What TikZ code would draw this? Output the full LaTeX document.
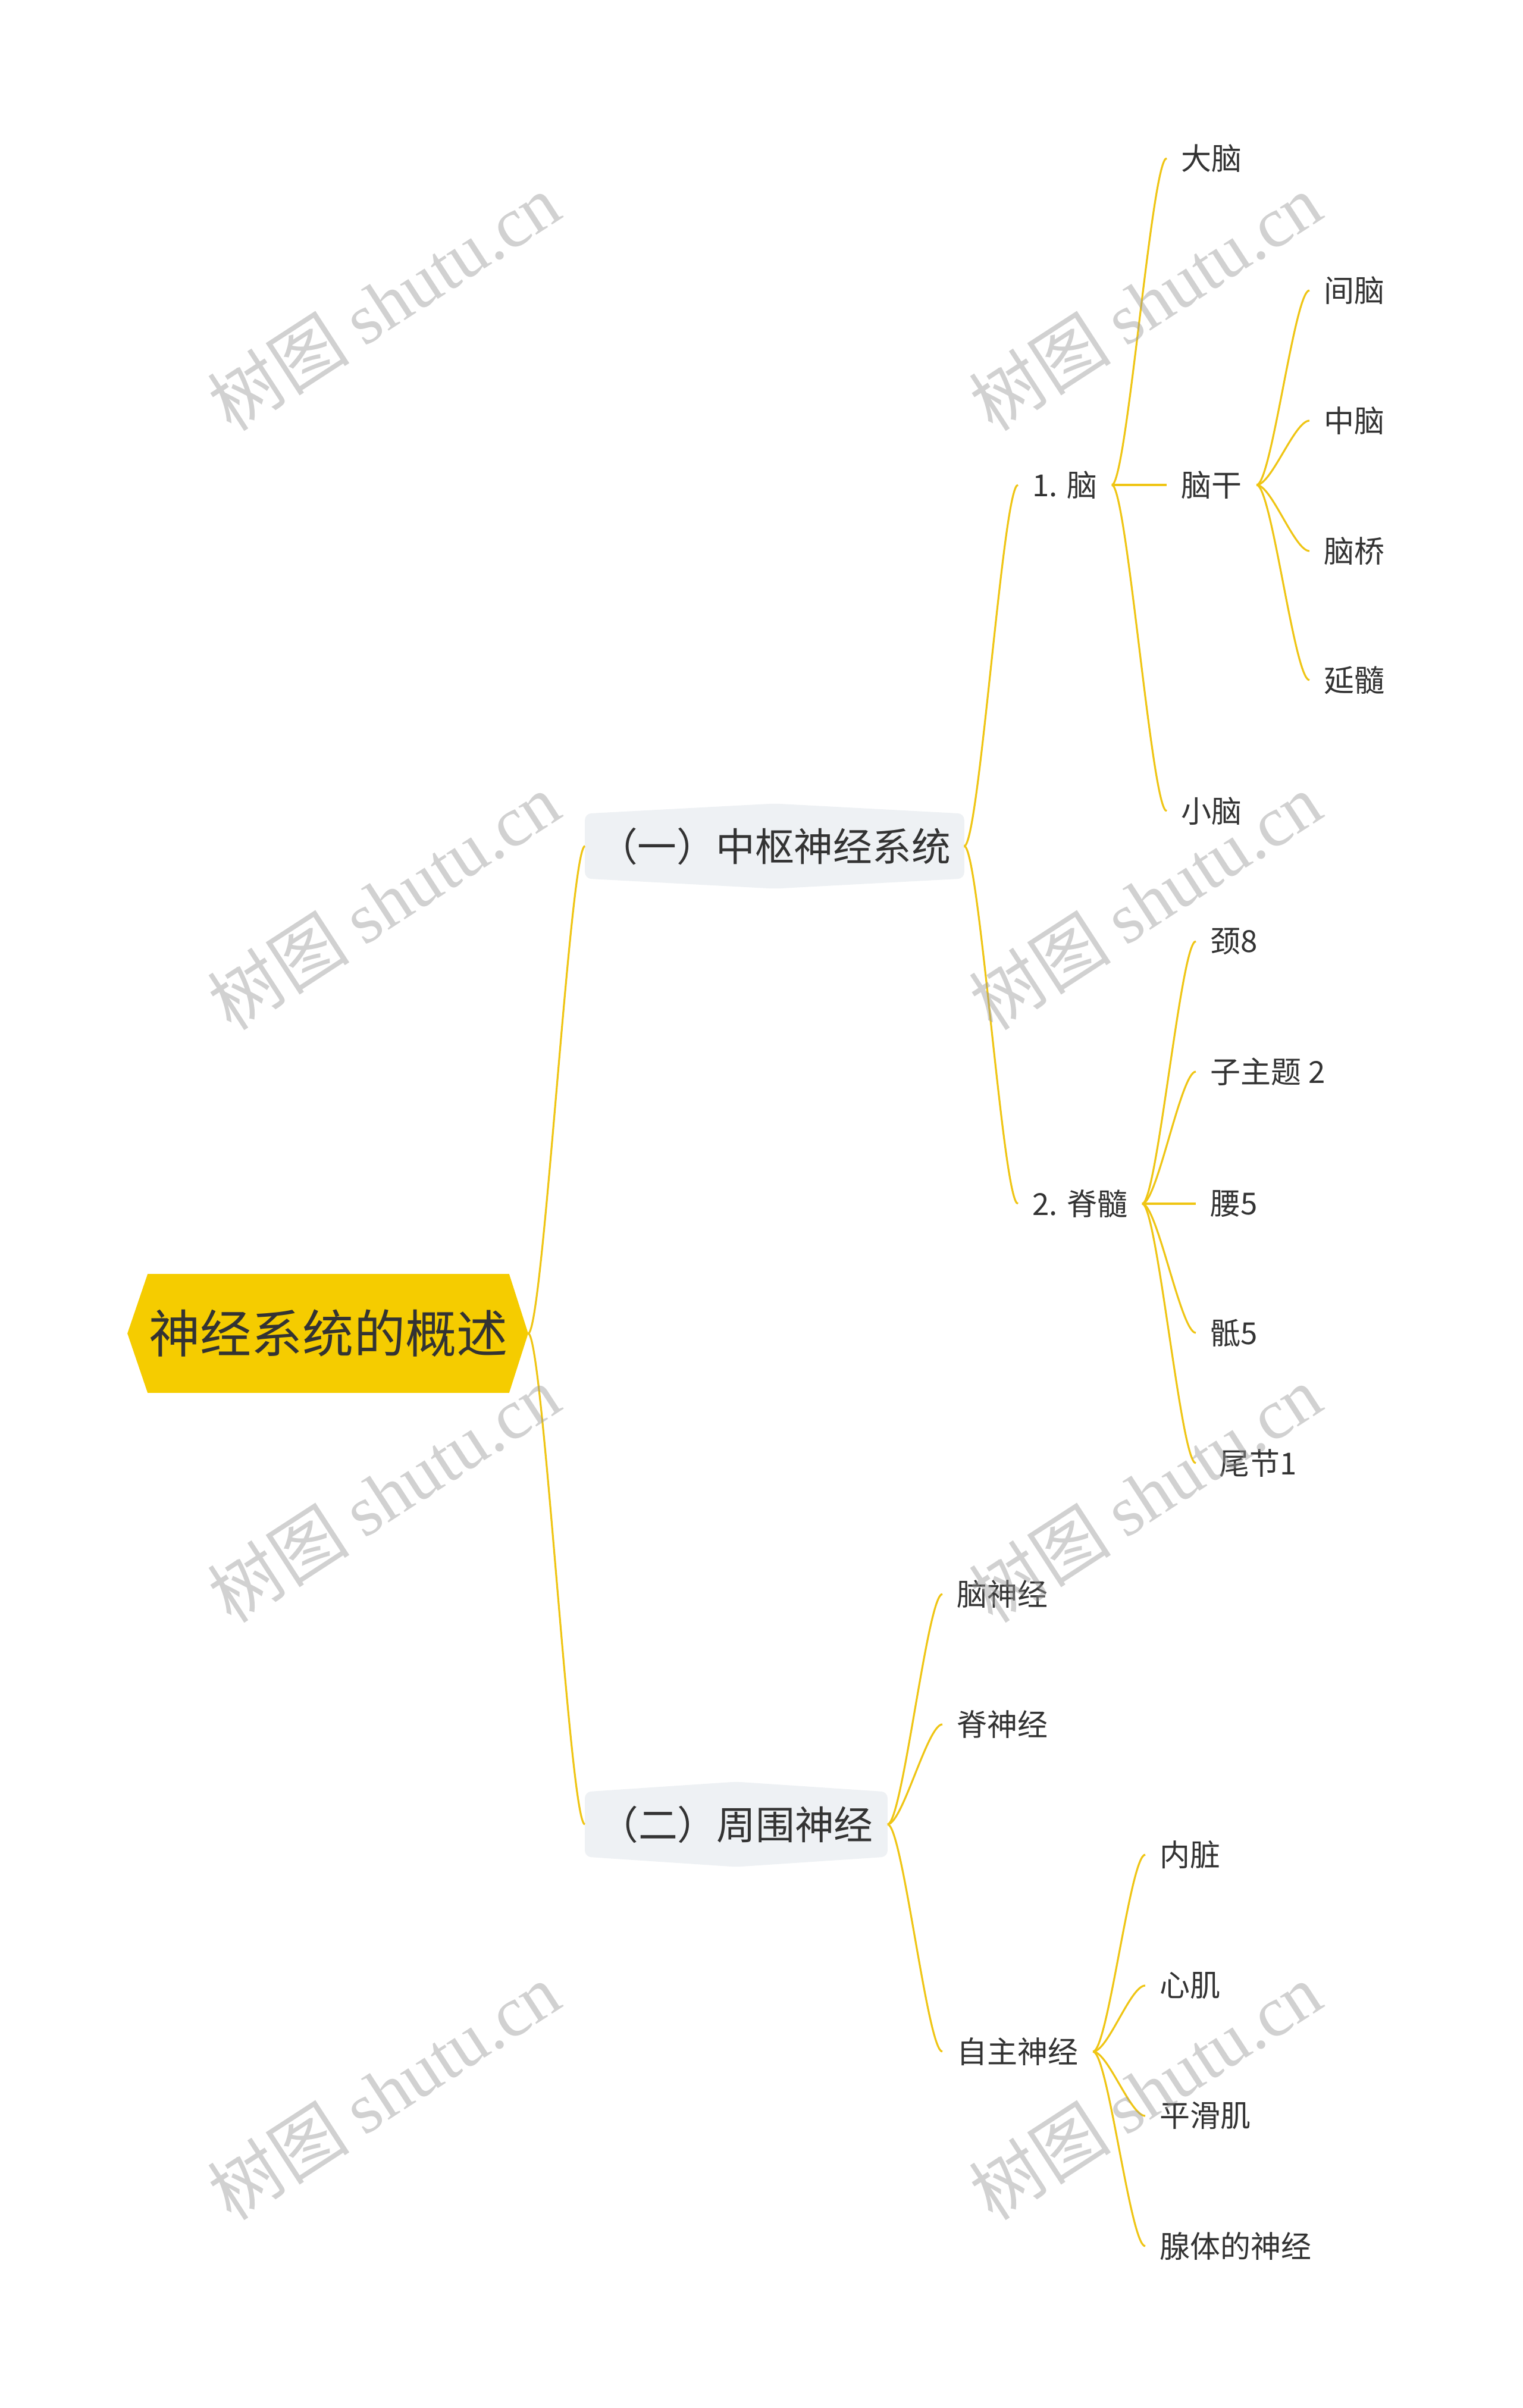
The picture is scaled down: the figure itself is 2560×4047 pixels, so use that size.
\documentclass[tikz,border=0pt]{standalone}
\usepackage{fontspec}
\setmainfont{Noto Sans CJK SC}
\newfontfamily\wmlatin{Liberation Serif}
\newfontfamily\wmcjk{Noto Sans CJK SC}
\usetikzlibrary{calc}
\definecolor{linec}{HTML}{EFC514}
\definecolor{rootc}{HTML}{F5CC00}
\definecolor{subc}{HTML}{EEF1F4}
\definecolor{txtc}{HTML}{333333}
\definecolor{wmc}{HTML}{999999}
\pgfdeclarelayer{bgbg}
\pgfdeclarelayer{bg}
\pgfdeclarelayer{fg}
\pgfsetlayers{bgbg,bg,main,fg}
\begin{document}
\begin{tikzpicture}[x=0.01cm,y=-0.01cm,
  conn/.style={draw=linec,line width=0.9pt},
  leaf/.style={anchor=west,inner xsep=6.8pt,inner ysep=2pt,text=txtc,font=\fontsize{14.5}{17}\selectfont},
  topic/.style={inner sep=0pt,text=txtc,font=\fontsize{18.7}{22}\selectfont,minimum height=30.6pt},
  wm/.style={text=wmc,text opacity=0.45,rotate=33,font=\fontsize{34}{38}\selectfont,inner sep=0pt}
]
\useasboundingbox (0,0) rectangle (2560,4047);
\begin{pgfonlayer}{bgbg}
  \fill[white] (0,0) rectangle (2560,4047);
\end{pgfonlayer}
\begin{pgfonlayer}{fg}
  \foreach \wx/\wy [count=\i] in {645/508,1925/508,645/1515,1925/1515,645/2511,1925/2511,645/3515,1925/3515}{
    \node[wm] (wm\i) at (\wx,\wy) {{\wmcjk 树图} {\wmlatin shutu.cn}};
  }
\end{pgfonlayer}

% root
\node[inner sep=0pt,minimum width=172.4pt,minimum height=56.4pt,text=txtc,font=\fontsize{24.5}{28}\selectfont] (root) at (552,2241) {神经系统的概述};
\coordinate (rootR) at ($(root.east)+(32,0)$);
\coordinate (rootL) at ($(root.west)+(-34,0)$);

% level 1
\node[topic,minimum width=180.9pt] (c1) at (1302,1422) {（一）中枢神经系统};
\node[topic,minimum width=144.3pt] (c2) at (1237.5,3066) {（二）周围神经};

% level 2
\node[leaf] (b1) at (1711,815) {1. 脑};
\node[leaf] (b2) at (1711,2023) {2. 脊髓};
\node[leaf] (g1) at (1584,2679) {脑神经};
\node[leaf] (g2) at (1584,2898) {脊神经};
\node[leaf] (g3) at (1584,3448) {自主神经};

% level 3
\node[leaf] (d1) at (1961,266) {大脑};
\node[leaf] (d2) at (1961,815) {脑干};
\node[leaf] (d3) at (1961,1363) {小脑};
\node[leaf] (e1) at (2201,488) {间脑};
\node[leaf] (e2) at (2201,707) {中脑};
\node[leaf] (e3) at (2201,926) {脑桥};
\node[leaf] (e4) at (2201,1143) {延髓};
\node[leaf] (f1) at (2010,1582) {颈8};
\node[leaf] (f2) at (2010,1801) {子主题 2};
\node[leaf] (f3) at (2010,2023) {腰5};
\node[leaf] (f4) at (2010,2240) {骶5};
\node[leaf] (f5) at (2010,2459) {\hspace*{4.2pt}尾节1};
\node[leaf] (h1) at (1925,3117) {内脏};
\node[leaf] (h2) at (1925,3337) {心肌};
\node[leaf] (h3) at (1925,3556) {平滑肌};
\node[leaf] (h4) at (1925,3775) {腺体的神经};

\begin{pgfonlayer}{bg}
  \fill[rootc] (root.north west) -- (root.north east) -- (rootR) -- (root.south east) -- (root.south west) -- (rootL) -- cycle;
  \foreach \n in {c1,c2}{
    \fill[subc,rounded corners=3pt] (\n.west) -- (\n.north west) -- ($(\n.north)+(0,-17)$) -- (\n.north east) -- (\n.south east) -- ($(\n.south)+(0,17)$) -- (\n.south west) -- cycle;
  }
  % connectors
  \draw[conn] (rootR) .. controls +(25,0) and +(-25,0) .. (c1.west);
  \draw[conn] (rootR) .. controls +(25,0) and +(-25,0) .. (c2.west);
  \draw[conn] (c1.east) .. controls +(25,0) and +(-25,0) .. (b1.west);
  \draw[conn] (c1.east) .. controls +(25,0) and +(-25,0) .. (b2.west);
  \draw[conn] (b1.east) .. controls +(25,0) and +(-25,0) .. (d1.west);
  \draw[conn] (b1.east) -- (d2.west);
  \draw[conn] (b1.east) .. controls +(25,0) and +(-25,0) .. (d3.west);
  \foreach \t in {e1,e2,e3,e4}{
    \draw[conn] (d2.east) .. controls +(25,0) and +(-25,0) .. (\t.west);
  }
  \foreach \t in {f1,f2,f4,f5}{
    \draw[conn] (b2.east) .. controls +(25,0) and +(-25,0) .. (\t.west);
  }
  \draw[conn] (b2.east) -- (f3.west);
  \foreach \t in {g1,g2,g3}{
    \draw[conn] (c2.east) .. controls +(25,0) and +(-25,0) .. (\t.west);
  }
  \foreach \t in {h1,h2,h3,h4}{
    \draw[conn] (g3.east) .. controls +(25,0) and +(-25,0) .. (\t.west);
  }
\end{pgfonlayer}
\end{tikzpicture}
\end{document}
